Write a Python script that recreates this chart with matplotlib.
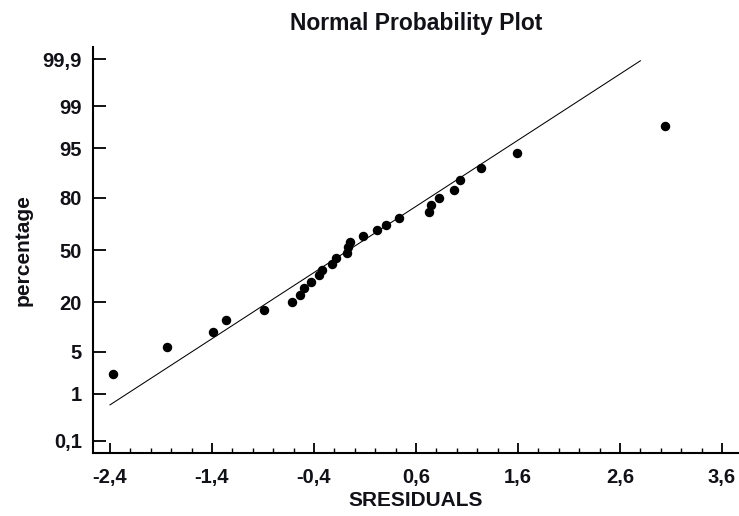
from statistics import NormalDist
import matplotlib.pyplot as plt
from matplotlib.ticker import MultipleLocator

# sorted residuals and their plotting percentages
sresiduals = [-2.37, -1.84, -1.39, -1.26, -0.89, -0.62, -0.54, -0.50, -0.43, -0.35,
              -0.32, -0.22, -0.18, -0.08, -0.07, -0.05, 0.08, 0.22, 0.31, 0.43,
              0.73, 0.75, 0.83, 0.97, 1.03, 1.24, 1.59, 3.04]
percentages = [2.2, 5.8, 9.3, 12.8, 16.4, 19.9, 23.5, 27.0, 30.5, 34.1,
               37.6, 41.2, 44.7, 48.2, 51.8, 55.3, 58.9, 62.4, 65.9, 69.5,
               73.0, 76.5, 80.1, 83.6, 87.2, 90.7, 94.2, 97.8]

# reference line end points
line_x = [-2.4, 2.8]
line_pct = [0.61, 99.89]

y_ticks = [0.1, 1, 5, 20, 50, 80, 95, 99, 99.9]
y_tick_labels = ['0,1', '1', '5', '20', '50', '80', '95', '99', '99,9']
x_ticks = [-2.4, -1.4, -0.4, 0.6, 1.6, 2.6, 3.6]
x_tick_labels = ['-2,4', '-1,4', '-0,4', '0,6', '1,6', '2,6', '3,6']

nd = NormalDist()
def probit(p):
    return [nd.inv_cdf(v / 100) for v in p]

fig = plt.figure(figsize=(7.39, 5.16), dpi=100)
ax = fig.add_axes([0.1258, 0.1221, 0.8742, 0.7868])

ax.plot(line_x, probit(line_pct), color='black', linewidth=0.75)
ax.plot(sresiduals, probit(percentages), 'o', color='black', markersize=5.8)

ax.set_xlim(-2.567, 3.767)
ax.set_ylim(-3.285, 3.285)

font = ['Liberation Sans', 'DejaVu Sans']
text_col = '#111118'
ax.set_xticks(x_ticks)
ax.set_xticklabels(x_tick_labels, family=font, fontsize=14.5, fontweight='bold', color=text_col)
ax.set_yticks(probit(y_ticks))
ax.set_yticklabels(y_tick_labels, family=font, fontsize=14.5, fontweight='bold', color=text_col)
ax.xaxis.set_minor_locator(MultipleLocator(0.2))

ax.tick_params(axis='x', which='major', direction='in', length=7, width=1.3, pad=11)
ax.tick_params(axis='x', which='minor', direction='in', length=3.5, width=1.0)
ax.tick_params(axis='y', which='major', direction='in', length=9, width=1.3, pad=8)

for s in ['top', 'right']:
    ax.spines[s].set_visible(False)
for s in ['left', 'bottom']:
    ax.spines[s].set_linewidth(1.5)

ax.set_title('Normal Probability Plot', family=font, fontsize=16.5,
             fontweight='bold', pad=12, color=text_col)
ax.set_xlabel('SRESIDUALS', family=font, fontsize=15, fontweight='bold',
              labelpad=3, color=text_col)
ax.set_ylabel('percentage', family=font, fontsize=15, fontweight='bold',
              labelpad=7, color=text_col)

fig.savefig('out.png', dpi=100)
